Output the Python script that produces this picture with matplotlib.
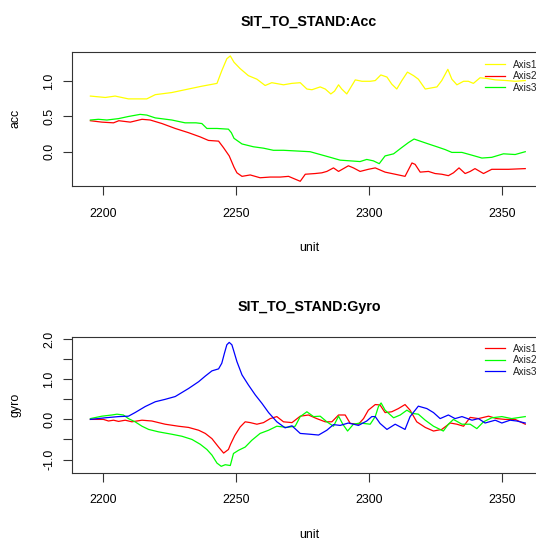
import matplotlib
matplotlib.use("Agg")
import matplotlib.pyplot as plt

plt.rcParams['font.family'] = ['Liberation Sans', 'DejaVu Sans']

# ---------------- Data ----------------
# Panel 1: accelerometer
acc1_t = [2195.3, 2200.9, 2204.6, 2209.6, 2216.5, 2219.7, 2225.9, 2230.9, 2237.2, 2242.9,
          2244.7, 2246.6, 2247.9, 2249.3, 2251.6, 2254.7, 2257.9, 2261.0, 2263.5, 2267.9,
          2271.0, 2274.2, 2276.7, 2278.6, 2281.7, 2283.6, 2285.7, 2287.1, 2288.6, 2289.8,
          2291.7, 2294.9, 2297.4, 2300.5, 2302.4, 2304.5, 2306.8, 2308.6, 2310.5, 2312.4,
          2314.5, 2316.8, 2318.6, 2321.2, 2325.6, 2327.4, 2329.7, 2331.2, 2333.1, 2335.6,
          2337.4, 2339.3, 2341.8, 2344.4, 2347.5, 2351.9, 2355.0, 2358.8]
acc1_v = [0.79, 0.77, 0.79, 0.75, 0.75, 0.81, 0.84, 0.88, 0.93, 0.97,
          1.15, 1.32, 1.36, 1.27, 1.18, 1.08, 1.03, 0.94, 0.98, 0.95,
          0.97, 0.98, 0.89, 0.88, 0.92, 0.89, 0.82, 0.86, 0.95, 0.89,
          0.82, 1.02, 1.00, 1.00, 1.01, 1.09, 1.06, 0.96, 0.89, 1.01,
          1.13, 1.08, 1.03, 0.89, 0.92, 1.01, 1.17, 1.03, 0.95, 1.00,
          1.00, 0.97, 1.05, 1.04, 1.02, 1.01, 1.00, 1.01]

acc2_t = [2195.3, 2199.6, 2204.0, 2206.0, 2210.3, 2214.7, 2217.8, 2222.2, 2227.2, 2232.2,
          2236.6, 2239.7, 2243.5, 2245.3, 2247.5, 2249.3, 2250.4, 2252.3, 2255.4, 2259.1,
          2262.9, 2266.7, 2269.8, 2272.3, 2274.2, 2276.1, 2279.8, 2282.3, 2284.2, 2286.7,
          2288.6, 2292.3, 2294.2, 2296.7, 2299.8, 2302.4, 2306.1, 2309.9, 2313.6, 2316.2,
          2317.4, 2319.3, 2322.4, 2324.9, 2327.4, 2329.9, 2331.8, 2333.9, 2336.2, 2338.1,
          2339.9, 2343.1, 2346.2, 2352.5, 2358.8]
acc2_v = [0.44, 0.42, 0.41, 0.44, 0.42, 0.46, 0.45, 0.40, 0.33, 0.27,
          0.21, 0.16, 0.15, 0.06, -0.06, -0.22, -0.30, -0.35, -0.33, -0.37,
          -0.36, -0.36, -0.35, -0.39, -0.42, -0.32, -0.31, -0.30, -0.28, -0.23,
          -0.28, -0.20, -0.23, -0.28, -0.25, -0.23, -0.29, -0.32, -0.35, -0.16,
          -0.18, -0.29, -0.28, -0.31, -0.32, -0.34, -0.30, -0.23, -0.31, -0.28,
          -0.24, -0.31, -0.25, -0.25, -0.24]

acc3_t = [2195.3, 2198.3, 2201.5, 2205.9, 2209.6, 2214.0, 2216.5, 2219.7, 2225.9, 2230.9,
          2235.0, 2237.2, 2239.1, 2242.9, 2247.2, 2248.3, 2249.3, 2252.3, 2256.6, 2260.4,
          2264.1, 2267.9, 2272.9, 2277.9, 2281.7, 2285.5, 2289.2, 2293.0, 2296.7, 2299.2,
          2301.7, 2303.9, 2306.1, 2309.3, 2312.4, 2314.9, 2317.0, 2319.3, 2322.4, 2325.6,
          2328.7, 2331.2, 2335.0, 2338.8, 2342.5, 2346.2, 2350.6, 2355.0, 2358.8]
acc3_v = [0.45, 0.46, 0.45, 0.47, 0.50, 0.53, 0.52, 0.48, 0.45, 0.41,
          0.41, 0.40, 0.33, 0.33, 0.32, 0.27, 0.19, 0.11, 0.07, 0.05,
          0.02, 0.02, 0.01, 0.00, -0.04, -0.08, -0.12, -0.13, -0.14, -0.11,
          -0.13, -0.17, -0.06, -0.03, 0.06, 0.13, 0.18, 0.15, 0.11, 0.07,
          0.03, -0.01, -0.01, -0.05, -0.09, -0.08, -0.03, -0.04, 0.00]

# Panel 2: gyroscope
gyr1_t = [2195.3, 2200.2, 2202.1, 2204.0, 2205.9, 2208.4, 2210.9, 2214.7, 2218.4, 2223.4,
          2228.4, 2232.2, 2236.0, 2238.5, 2241.0, 2243.5, 2245.4, 2247.2, 2248.0, 2249.6,
          2251.6, 2253.5, 2255.4, 2257.9, 2260.4, 2262.9, 2265.4, 2267.9, 2271.1, 2274.2,
          2277.3, 2280.4, 2283.6, 2286.1, 2288.6, 2291.1, 2293.0, 2296.1, 2298.0, 2299.8,
          2302.4, 2304.2, 2306.1, 2308.6, 2311.1, 2313.6, 2315.5, 2318.0, 2321.2, 2324.3,
          2327.4, 2330.6, 2333.1, 2335.6, 2338.1, 2341.2, 2345.0, 2348.1, 2351.2, 2355.0,
          2358.8]
gyr1_v = [0.00, 0.00, -0.04, -0.02, -0.05, -0.02, -0.06, -0.02, -0.04, -0.12,
          -0.17, -0.20, -0.27, -0.35, -0.48, -0.69, -0.84, -0.75, -0.62, -0.40,
          -0.19, -0.06, -0.08, -0.12, -0.08, 0.02, 0.07, -0.06, -0.08, 0.08,
          0.11, 0.02, -0.06, -0.06, 0.11, 0.11, -0.10, -0.12, 0.02, 0.23,
          0.37, 0.36, 0.17, 0.19, 0.27, 0.37, 0.23, -0.06, -0.20, -0.29,
          -0.25, -0.09, -0.12, -0.17, 0.05, 0.02, 0.08, 0.02, 0.00, 0.00,
          -0.12]

gyr2_t = [2195.3, 2199.6, 2203.4, 2205.3, 2207.7, 2209.6, 2212.1, 2214.7, 2217.2, 2220.9,
          2225.9, 2229.7, 2233.5, 2236.6, 2239.1, 2241.0, 2242.9, 2244.5, 2246.0, 2247.9,
          2249.1, 2251.0, 2253.5, 2256.0, 2259.1, 2262.3, 2265.4, 2269.2, 2272.3, 2274.2,
          2276.7, 2279.2, 2281.7, 2284.2, 2286.7, 2288.6, 2290.2, 2292.0, 2294.2, 2296.7,
          2300.5, 2302.4, 2303.6, 2304.6, 2306.1, 2309.3, 2311.8, 2314.3, 2316.2, 2318.6,
          2321.2, 2324.3, 2328.0, 2329.9, 2331.8, 2335.0, 2338.1, 2340.6, 2343.1, 2346.2,
          2350.0, 2353.7, 2358.8]
gyr2_v = [0.02, 0.08, 0.11, 0.13, 0.11, 0.02, -0.06, -0.17, -0.25, -0.31,
          -0.37, -0.42, -0.50, -0.62, -0.75, -0.89, -1.09, -1.17, -1.13, -1.15,
          -0.85, -0.77, -0.69, -0.52, -0.35, -0.27, -0.17, -0.20, -0.17, 0.07,
          0.19, 0.07, 0.08, -0.06, -0.17, 0.08, -0.12, -0.29, -0.12, -0.09,
          -0.12, 0.07, 0.32, 0.41, 0.23, 0.04, 0.11, 0.23, 0.15, 0.13,
          -0.02, -0.17, -0.29, -0.12, 0.00, -0.12, -0.12, -0.23, -0.06, 0.04,
          0.07, 0.02, 0.07]

gyr3_t = [2195.3, 2200.9, 2205.9, 2209.6, 2212.1, 2215.9, 2219.7, 2223.4, 2227.2, 2229.7,
          2232.2, 2236.0, 2238.5, 2241.0, 2243.5, 2244.7, 2245.7, 2246.6, 2247.5, 2248.5,
          2249.1, 2250.4, 2252.3, 2254.7, 2257.3, 2259.8, 2262.3, 2265.4, 2268.5, 2271.1,
          2274.2, 2277.9, 2281.1, 2284.2, 2286.7, 2289.2, 2292.3, 2296.1, 2299.2, 2301.1,
          2302.4, 2304.2, 2306.8, 2309.9, 2313.6, 2315.5, 2318.6, 2321.8, 2324.3, 2326.8,
          2329.9, 2332.4, 2335.0, 2338.8, 2341.2, 2343.7, 2347.5, 2350.0, 2353.1, 2355.6,
          2358.8]
gyr3_v = [0.00, 0.04, 0.07, 0.08, 0.17, 0.32, 0.44, 0.50, 0.57, 0.67,
          0.77, 0.94, 1.08, 1.21, 1.26, 1.40, 1.65, 1.86, 1.92, 1.86,
          1.73, 1.44, 1.11, 0.86, 0.61, 0.40, 0.17, -0.06, -0.21, -0.16,
          -0.35, -0.37, -0.39, -0.27, -0.13, -0.15, -0.09, -0.15, -0.04, 0.07,
          0.07, -0.10, -0.25, -0.12, -0.25, 0.07, 0.33, 0.27, 0.17, 0.02,
          0.11, 0.02, 0.07, -0.02, 0.02, -0.09, -0.02, -0.09, -0.02, -0.04,
          -0.09]

x_ticks = [2200, 2250, 2300, 2350]
acc_yticks = [0.0, 0.5, 1.0]
acc_ylabels = ["0.0", "0.5", "1.0"]
gyr_yticks = [-1.0, -0.5, 0.0, 0.5, 1.0, 1.5, 2.0]
gyr_ylabels = ["-1.0", "", "0.0", "", "1.0", "", "2.0"]
legend_labels = ["Axis1", "Axis2", "Axis3"]
acc_colors = ["#FFFF00", "#FF0000", "#00FF00"]
gyr_colors = ["#FF0000", "#00FF00", "#0000FF"]

# ---------------- Figure ----------------
W, H = 536, 539
fig = plt.figure(figsize=(W / 100, H / 100), dpi=100)

FS = 8.9
TXT = "#000000"


def fx(px):
    return px / W


def fy(py):
    return 1 - py / H


def make_panel(top_px, bot_px, title, ylabel, ylim, yticks, ylabels,
               series, colors, leg_top_px):
    left_px, right_px = 72.3, 546.0
    ax = fig.add_axes([fx(left_px), fy(bot_px), fx(right_px - left_px),
                       (bot_px - top_px) / H])
    lines = []
    for (t, v), c in zip(series, colors):
        ln, = ax.plot(t, v, color=c, lw=0.9, solid_joinstyle='round')
        lines.append(ln)
    ax.set_xlim(2188.5, 2366.6)
    ax.set_ylim(*ylim)
    ax.set_xticks(x_ticks)
    ax.set_xticklabels([str(x) for x in x_ticks], fontsize=FS, color=TXT)
    ax.set_yticks(yticks)
    ax.set_yticklabels(ylabels, fontsize=FS, color=TXT, rotation=90, va='center')
    ax.tick_params(axis='x', length=6.5, width=0.8, pad=9, color='#333333')
    ax.tick_params(axis='y', length=6.5, width=0.8, pad=5.8, color='#333333')
    for s in ax.spines.values():
        s.set_linewidth(0.8)
        s.set_color('#333333')
    ax.set_title(title, fontsize=10.3, fontweight='bold', pad=19, color=TXT)
    hgt = bot_px - top_px
    ax.set_xlabel("unit", fontsize=FS, color=TXT, va='baseline')
    ax.xaxis.set_label_coords(0.5, -(251 - 186) / hgt)
    ax.set_ylabel(ylabel, fontsize=FS, color=TXT, va='baseline')
    ax.yaxis.set_label_coords((18.5 - left_px) / (right_px - left_px), 0.5)
    leg = ax.legend(lines, legend_labels, loc='upper left',
                    bbox_to_anchor=(fx(485), fy(leg_top_px)),
                    bbox_transform=fig.transFigure, frameon=False,
                    fontsize=7.2, handlelength=2.0, handletextpad=0.8,
                    labelspacing=0.17, borderpad=0, borderaxespad=0)
    for txt in leg.get_texts():
        txt.set_color("#222222")
    return ax


make_panel(51.7, 186.0, "SIT_TO_STAND:Acc", "acc", (-0.487, 1.42),
           acc_yticks, acc_ylabels,
           [(acc1_t, acc1_v), (acc2_t, acc2_v), (acc3_t, acc3_v)],
           acc_colors, 59.5)

make_panel(337.3, 472.5, "SIT_TO_STAND:Gyro", "gyro", (-1.324, 2.047),
           gyr_yticks, gyr_ylabels,
           [(gyr1_t, gyr1_v), (gyr2_t, gyr2_v), (gyr3_t, gyr3_v)],
           gyr_colors, 343.5)

fig.savefig("out.png", dpi=100)
